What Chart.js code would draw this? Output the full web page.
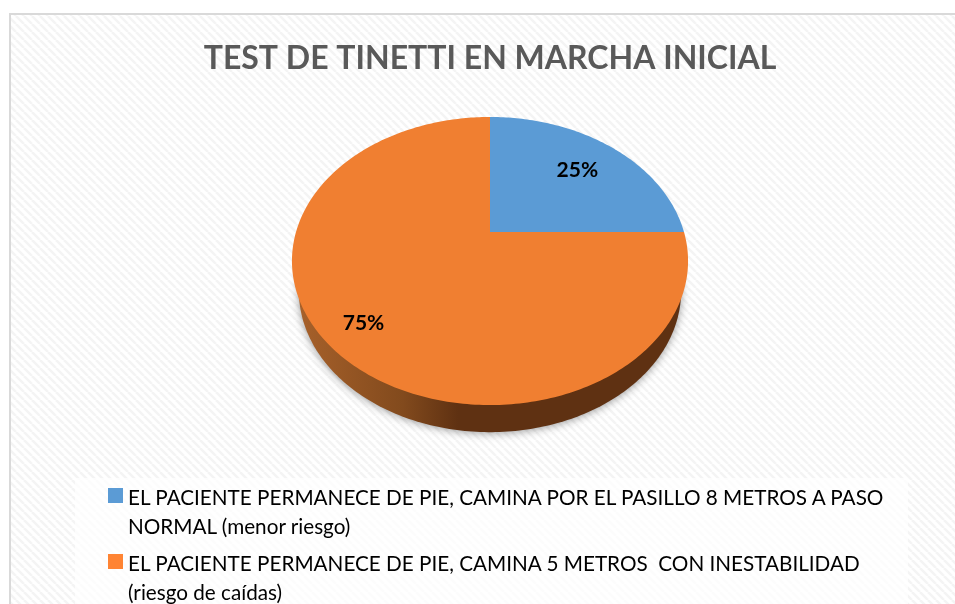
<!DOCTYPE html>
<html>
<head>
<meta charset="utf-8">
<script src="https://cdn.jsdelivr.net/npm/chart.js@4"></script>
<style>
  html, body { margin: 0; padding: 0; background: #fff; overflow: hidden; }
  #wrap { position: relative; width: 955px; height: 604px; overflow: hidden; }
  #legend {
    position: absolute; left: 75px; top: 478px; width: 833px; height: 126px;
    background: rgba(255, 255, 255, 0.7);
    font: 20.7px/29px Lato, sans-serif; color: #000;
  }
  .item { position: absolute; left: 53px; width: 770px; white-space: pre-wrap; }
  .swatch { position: absolute; left: -20px; top: 5px; width: 15px; height: 15px; }
</style>
</head>
<body>
<div id="wrap">
  <canvas id="myChart" width="955" height="604"></canvas>
  <div id="legend"></div>
</div>
<script>
const labels = [
  "EL PACIENTE PERMANECE DE PIE, CAMINA POR EL PASILLO 8 METROS A PASO NORMAL (menor riesgo)",
  "EL PACIENTE PERMANECE DE PIE, CAMINA 5 METROS  CON INESTABILIDAD (riesgo de caídas)",
];
const values = [25, 75];
const colors = ["#5B9BD5", "#F07F31"];
const swatchColors = ["#5B9BD5", "#FF8433"];

// 透視: 圓盤 (u,v) 投影到畫面
const apex = { x: 490, y: 232 };
const persp = { a: 194, b: 138.2, k: 0.2014 };
const faceCenterY = 261;
// 底面橢圓 (側面用)
const base = { scaleX: 0.965, scaleY: 0.98, centerY: 291 };
const labelRadius = [0.7, 0.815];

function project(angle, r) {
  const u = r * Math.cos(angle);
  const v = r * Math.sin(angle);
  const w = 1 - persp.k * v;
  return { x: apex.x + (persp.a * u) / w, y: apex.y + (persp.b * v) / w };
}

function slicePath(ctx, start, end) {
  const steps = Math.ceil((end - start) * 60);
  ctx.beginPath();
  ctx.moveTo(apex.x, apex.y);
  for (let i = 0; i <= steps; i++) {
    const p = project(start + ((end - start) * i) / steps, 1);
    ctx.lineTo(p.x, p.y);
  }
  ctx.closePath();
}

function basePath(ctx, start, end) {
  const steps = Math.ceil((end - start) * 60);
  ctx.beginPath();
  for (let i = 0; i <= steps; i++) {
    const p = project(start + ((end - start) * i) / steps, 1);
    ctx.lineTo(
      apex.x + (p.x - apex.x) * base.scaleX,
      base.centerY + (p.y - faceCenterY) * base.scaleY
    );
  }
  ctx.closePath();
}

function stripePattern(ctx) {
  const c = document.createElement("canvas");
  c.width = 8;
  c.height = 8;
  const p = c.getContext("2d");
  p.fillStyle = "#fff";
  p.fillRect(0, 0, 8, 8);
  p.strokeStyle = "#f4f4f4";
  p.lineWidth = 2.6;
  [-8, 0, 8].forEach((o) => {
    p.beginPath();
    p.moveTo(o, 0);
    p.lineTo(o + 8, 8);
    p.stroke();
  });
  return ctx.createPattern(c, "repeat");
}

// 背景與外框
const backgroundPlugin = {
  id: "backgroundPlugin",
  beforeDraw(chart) {
    const { ctx, width, height } = chart;
    ctx.save();
    ctx.fillStyle = stripePattern(ctx);
    ctx.fillRect(10, 14, width - 10, height - 14);
    ctx.strokeStyle = "#d9d9d9";
    ctx.lineWidth = 2;
    ctx.beginPath();
    ctx.moveTo(10, height);
    ctx.lineTo(10, 14);
    ctx.lineTo(width, 14);
    ctx.stroke();
    ctx.restore();
  },
};

// 自定義插件繪製立體圓餅
const pie3dPlugin = {
  id: "pie3dPlugin",
  beforeDatasetDraw(chart, args) {
    const { ctx } = chart;
    const arcs = args.meta.data;
    const first = arcs[0].startAngle;
    const last = arcs[arcs.length - 1].endAngle;

    // 側面
    const side = ctx.createLinearGradient(292, 0, 688, 0);
    side.addColorStop(0, "#A9622B");
    side.addColorStop(0.28, "#824A1D");
    side.addColorStop(0.42, "#5F3112");
    side.addColorStop(1, "#5F3112");
    ctx.save();
    ctx.shadowColor = "rgba(0, 0, 0, 0.4)";
    ctx.shadowBlur = 8;
    ctx.shadowOffsetY = 1;
    ctx.fillStyle = side;
    basePath(ctx, first, last);
    ctx.fill();
    ctx.restore();

    // 頂面
    arcs.forEach((arc) => {
      ctx.fillStyle = arc.options.backgroundColor;
      slicePath(ctx, arc.startAngle, arc.endAngle);
      ctx.fill();
    });

    // 百分比標籤
    ctx.save();
    ctx.fillStyle = "#000";
    ctx.font = "bold 21px Lato";
    ctx.textAlign = "center";
    ctx.textBaseline = "middle";
    arcs.forEach((arc, i) => {
      const p = project((arc.startAngle + arc.endAngle) / 2, labelRadius[i]);
      ctx.fillText(values[i] + "%", p.x, p.y + i);
    });
    ctx.restore();
    return false;
  },
};

const myChart = new Chart(document.getElementById("myChart"), {
  type: "pie",
  data: {
    labels,
    datasets: [{ data: values, backgroundColor: colors, borderWidth: 0 }],
  },
  options: {
    responsive: false,
    animation: false,
    layout: { padding: { left: 25, top: 29 } },
    plugins: {
      legend: { display: false },
      tooltip: { enabled: false },
      title: {
        display: true,
        text: "TEST DE TINETTI EN MARCHA INICIAL",
        color: "#595959",
        font: { family: "Lato", size: 32, weight: "bold" },
      },
    },
  },
  plugins: [backgroundPlugin, pie3dPlugin],
});

// 圖例
const legendTops = [5, 71];
const legendEl = document.getElementById("legend");
myChart.data.labels.forEach((text, i) => {
  const item = document.createElement("div");
  item.className = "item";
  item.style.top = legendTops[i] + "px";
  const swatch = document.createElement("span");
  swatch.className = "swatch";
  swatch.style.background = swatchColors[i];
  item.appendChild(swatch);
  item.appendChild(document.createTextNode(text));
  legendEl.appendChild(item);
});
</script>
</body>
</html>
